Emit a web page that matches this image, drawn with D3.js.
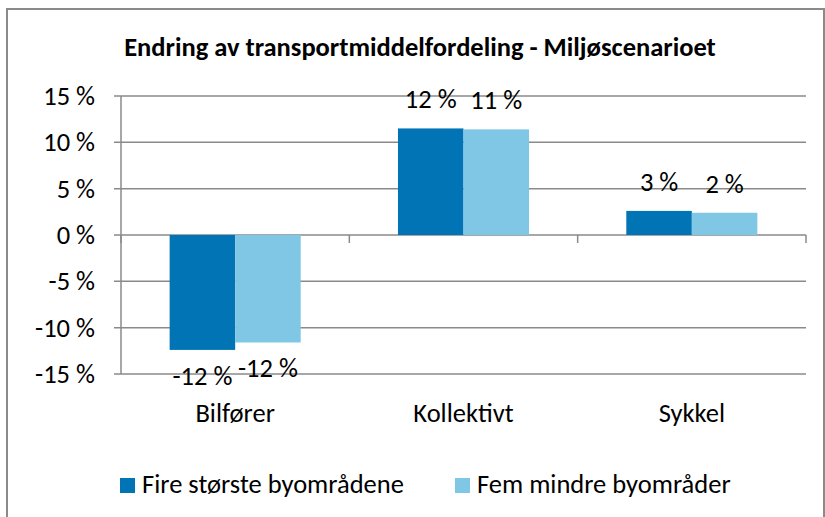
<!DOCTYPE html>
<html>
<head>
<meta charset="utf-8">
<style>
 body { margin: 0; background: #fff; }
 svg { font-family: Carlito, Calibri, Lato, sans-serif; }
 .grid line { stroke: #8a8a8a; stroke-width: 1.5px; }
 .lbl { font-size: 26.5px; fill: #000; }
 #title { font-size: 26.5px; font-weight: bold; }
</style>
</head>
<body>
<svg width="825" height="517"></svg>
<script src="https://d3js.org/d3.v7.min.js"></script>
<script>

var categories = ["Bilfører", "Kollektivt", "Sykkel"];
var seriesNames = ["Fire største byområdene", "Fem mindre byområder"];
var seriesFire = [-12.4, 11.5, 2.6];
var seriesFem = [-11.6, 11.4, 2.4];
var seriesLabels = [["-12 %", "12 %", "3 %"], ["-12 %", "11 %", "2 %"]];
var yTicks = [-15, -10, -5, 0, 5, 10, 15];
var colors = ["#0174b5", "#7fc7e5"];

var svg = d3.select("svg");

// outer frame
svg.append("rect")
    .attr("x", 7).attr("y", 9)
    .attr("width", 817).attr("height", 520)
    .attr("fill", "none")
    .attr("stroke", "#8a8a8a")
    .attr("stroke-width", 2);

svg.append("text")
    .attr("id", "title")
    .attr("x", 420).attr("y", 56)
    .attr("text-anchor", "middle")
    .text("Endring av transportmiddelfordeling - Miljøscenarioet");

var plotL = 121, plotR = 806, plotT = 96, plotB = 374;

var y = d3.scaleLinear().domain([-15, 15]).range([plotB, plotT]);
var x0 = d3.scaleBand().domain(categories).range([plotL, plotR])
    .paddingInner(0.426).paddingOuter(0.213);
var x1 = d3.scaleBand().domain([0, 1]).range([0, x0.bandwidth()]);

// gridlines
var grid = svg.append("g").attr("class", "grid");
grid.selectAll("line").data(yTicks).enter().append("line")
    .attr("x1", plotL - 7).attr("x2", plotR)
    .attr("y1", function(d){ return y(d); })
    .attr("y2", function(d){ return y(d); });
grid.append("line")
    .attr("x1", plotL).attr("x2", plotL)
    .attr("y1", plotT).attr("y2", plotB);

// y labels
svg.selectAll(".ylab").data(yTicks).enter().append("text")
    .attr("class", "lbl ylab")
    .attr("x", plotL - 26)
    .attr("y", function(d){ return y(d) + 9; })
    .attr("text-anchor", "end")
    .text(function(d){ return d + " %"; });

// bars
var series = [seriesFire, seriesFem];
series.forEach(function(vals, si){
    svg.append("g").selectAll("rect").data(vals).enter().append("rect")
        .attr("x", function(d, i){ return x0(categories[i]) + x1(si); })
        .attr("width", x1.bandwidth())
        .attr("y", function(d){ return y(Math.max(0, d)); })
        .attr("height", function(d){ return Math.abs(y(d) - y(0)); })
        .attr("fill", colors[si]);
});

// category axis at zero with boundary ticks
var step = x0.step();
grid.selectAll(".ctick").data(d3.range(categories.length + 1)).enter().append("line")
    .attr("class", "ctick")
    .attr("x1", function(d){ return plotL + d * step; })
    .attr("x2", function(d){ return plotL + d * step; })
    .attr("y1", y(0)).attr("y2", y(0) + 8);

// data labels
series.forEach(function(vals, si){
    svg.append("g").selectAll("text").data(vals).enter().append("text")
        .attr("class", "lbl")
        .attr("text-anchor", "middle")
        .attr("x", function(d, i){ return x0(categories[i]) + x1(si) + x1.bandwidth() / 2; })
        .attr("y", function(d){ return d >= 0 ? y(d) - 20 : y(d) + 35; })
        .text(function(d, i){ return seriesLabels[si][i]; });
});

// category labels
svg.selectAll(".clab").data(categories).enter().append("text")
    .attr("class", "lbl clab")
    .attr("text-anchor", "middle")
    .attr("x", function(d){ return x0(d) + x0.bandwidth() / 2; })
    .attr("y", 422)
    .text(function(d){ return d; });

// legend
var legX = [120, 455];
seriesNames.forEach(function(name, si){
    svg.append("rect")
        .attr("x", legX[si]).attr("y", 478)
        .attr("width", 15).attr("height", 15)
        .attr("fill", colors[si]);
    svg.append("text")
        .attr("class", "lbl")
        .attr("x", legX[si] + 22).attr("y", 493)
        .text(name);
});
</script>
</body>
</html>
